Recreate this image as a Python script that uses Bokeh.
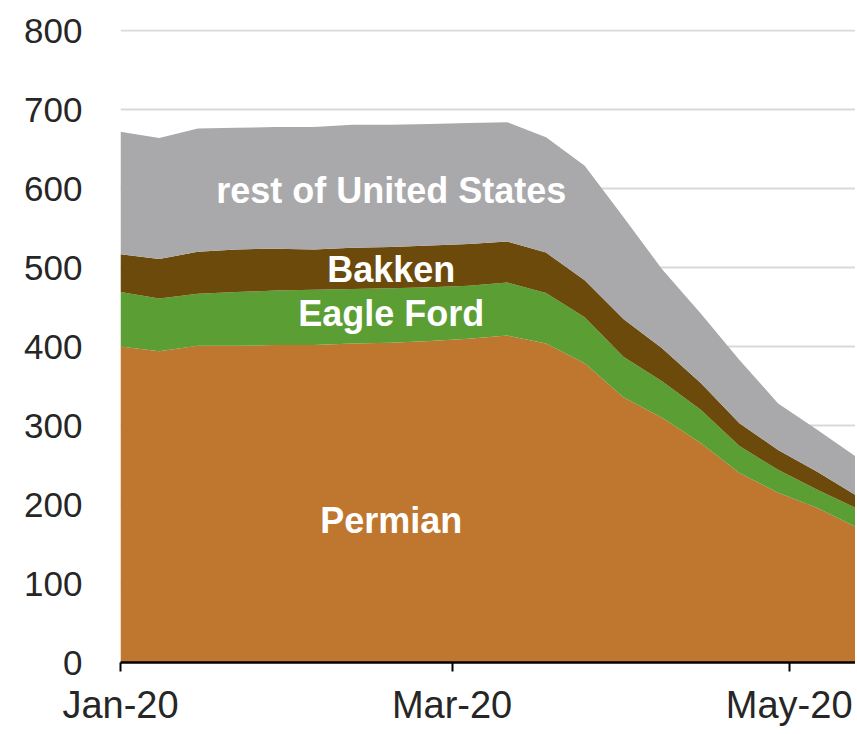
import pandas as pd
from bokeh.plotting import figure
from bokeh.models import ColumnDataSource, Range1d, FixedTicker, DatetimeTickFormatter, Label
from bokeh.embed import file_html
from bokeh.resources import INLINE

# ---- data (weekly rig counts) ----
week_ending = ["2020-01-03", "2020-01-10", "2020-01-17", "2020-01-24", "2020-01-31",
               "2020-02-07", "2020-02-14", "2020-02-21", "2020-02-28", "2020-03-06",
               "2020-03-13", "2020-03-20", "2020-03-27", "2020-04-03", "2020-04-10",
               "2020-04-17", "2020-04-24", "2020-05-01", "2020-05-08", "2020-05-15"]
permian = [400, 394, 401, 401, 402, 402, 404, 405, 407, 410,
           414, 404, 379, 336, 310, 278, 240, 215, 196, 172]
eagle_ford = [69, 67, 66, 68, 69, 70, 69, 69, 68, 67,
              67, 64, 58, 51, 46, 42, 34, 29, 23, 24]
bakken = [48, 50, 53, 54, 53, 51, 52, 52, 53, 53,
          52, 51, 47, 48, 42, 34, 29, 25, 23, 16]
rest_of_us = [155, 153, 156, 154, 154, 155, 156, 155, 154, 153,
              151, 146, 145, 129, 100, 88, 80, 59, 53, 49]
series_names = ["Permian", "Eagle Ford", "Bakken", "rest of United States"]
series_colors = ["#BF762F", "#5A9E34", "#6B4A0C", "#A9A9AB"]
tick_dates = ["2020-01-03", "2020-03-03", "2020-05-03"]
y_ticks = [0, 100, 200, 300, 400, 500, 600, 700, 800]

dates = pd.to_datetime(week_ending)
source = ColumnDataSource(dict(date=dates, Permian=permian, EagleFord=eagle_ford,
                               Bakken=bakken, Rest=rest_of_us))
stackers = ["Permian", "EagleFord", "Bakken", "Rest"]

p = figure(width=855, height=728, x_axis_type="datetime",
           output_backend="svg", toolbar_location=None,
           x_range=Range1d(dates[0], dates[-1]), y_range=Range1d(0, 801.5),
           min_border_left=120, min_border_right=0, min_border_top=29,
           min_border_bottom=65)
p.outline_line_color = None
p.background_fill_color = "white"
p.border_fill_color = "white"

p.varea_stack(stackers=stackers, x="date", color=series_colors, source=source)

# grid
p.xgrid.grid_line_color = None
p.ygrid.grid_line_color = "#D9D9D9"
p.ygrid.grid_line_width = 2
p.ygrid.level = "underlay"

# y axis
p.yaxis.ticker = FixedTicker(ticks=y_ticks)
p.yaxis.axis_line_color = None
p.yaxis.major_tick_line_color = None
p.yaxis.minor_tick_line_color = None
p.yaxis.major_label_text_font = "Liberation Sans"
p.yaxis.major_label_text_font_size = "35px"
p.yaxis.major_label_text_color = "#262626"
p.yaxis.major_label_standoff = 32

# x axis
tick_ms = [int(t) for t in (pd.to_datetime(tick_dates).astype("int64") // 10**6)]
p.xaxis.ticker = FixedTicker(ticks=tick_ms)
fmt = "%b-%y"
p.xaxis.formatter = DatetimeTickFormatter(days=fmt, months=fmt, years=fmt, hours=fmt,
                                          hourmin=fmt, context=None)
p.xaxis.axis_line_color = "black"
p.xaxis.axis_line_width = 2.5
p.xaxis.major_tick_line_color = "black"
p.xaxis.major_tick_line_width = 2
p.xaxis.major_tick_out = 9
p.xaxis.major_tick_in = 0
p.xaxis.minor_tick_line_color = None
p.xaxis.major_label_text_font = "Liberation Sans"
p.xaxis.major_label_text_font_size = "38px"
p.xaxis.major_label_text_color = "#262626"
p.xaxis.major_label_standoff = 12

# in-chart labels
lab_x = pd.Timestamp("2020-02-21")
for text, yv in [(series_names[3], 598), (series_names[2], 497),
                 (series_names[1], 442), (series_names[0], 180)]:
    p.add_layout(Label(x=lab_x, y=yv, text=text, text_align="center",
                       text_baseline="middle", text_color="white",
                       text_font="Liberation Sans", text_font_style="bold",
                       text_font_size="36px"))

open("out.html", "w").write(file_html(p, INLINE))
